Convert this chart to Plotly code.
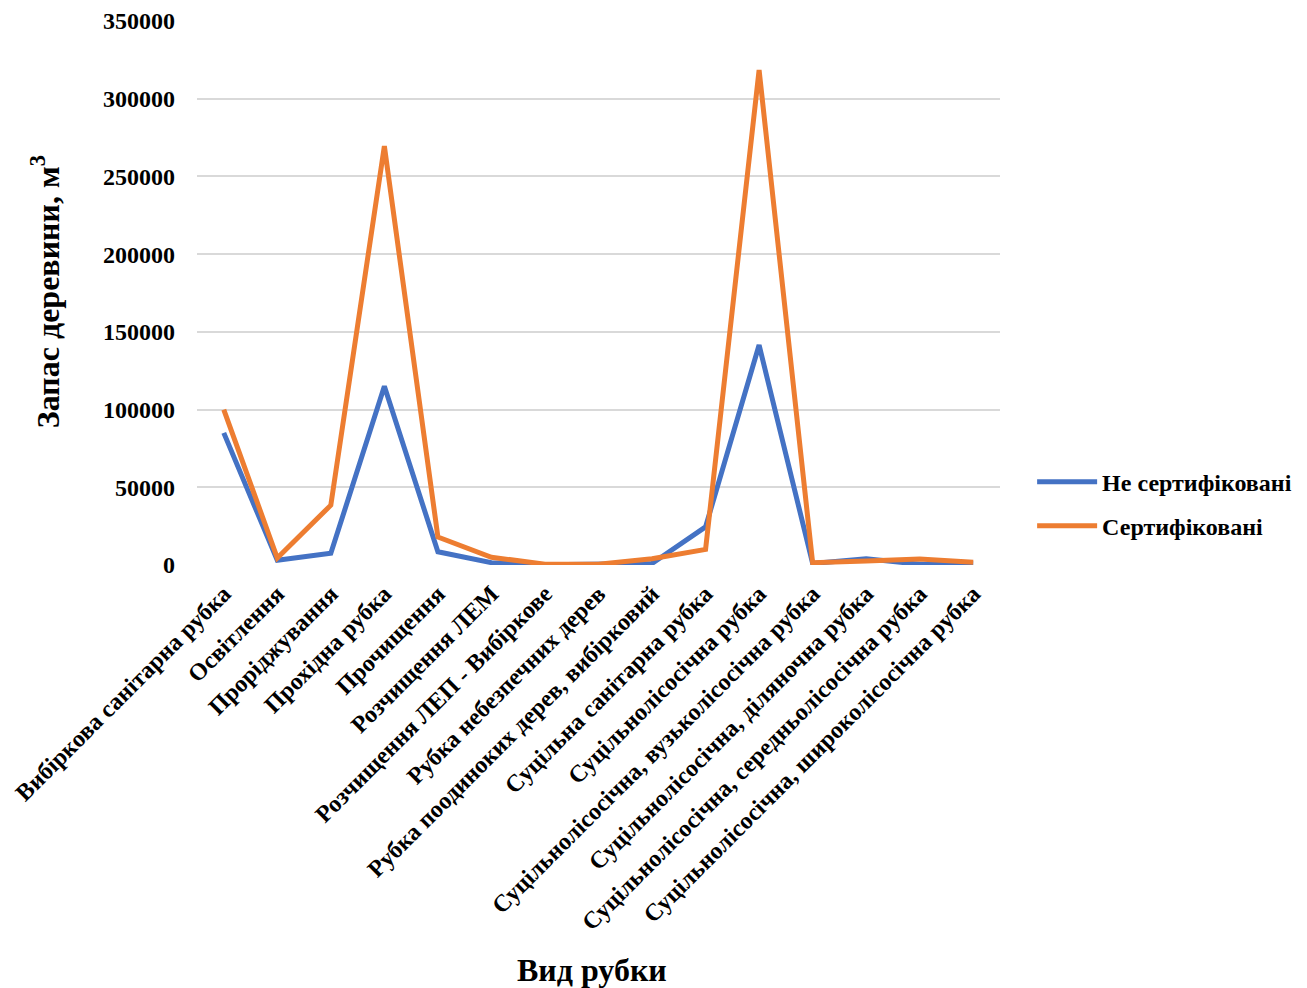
import plotly.graph_objects as go

categories = [
    "Вибіркова санітарна рубка",
    "Освітлення",
    "Проріджування",
    "Прохідна рубка",
    "Прочищення",
    "Розчищення ЛЕМ",
    "Розчищення ЛЕП - Вибіркове",
    "Рубка небезпечних дерев",
    "Рубка поодиноких дерев, вибірковий",
    "Суцільна санітарна рубка",
    "Суцільнолісосічна рубка",
    "Суцільнолісосічна, вузьколісосічна рубка",
    "Суцільнолісосічна, діляночна рубка",
    "Суцільнолісосічна, середньолісосічна рубка",
    "Суцільнолісосічна, широколісосічна рубка",
]
not_certified = [85000, 3000, 7500, 115000, 8500, 1500, 200, 200, 1000, 24500, 141500, 1000, 4000, 500, 1000]
certified = [100000, 4500, 38500, 269500, 18000, 5000, 500, 500, 4000, 10000, 318500, 1500, 2500, 3800, 1700]
y_ticks = [0, 50000, 100000, 150000, 200000, 250000, 300000, 350000]

FONT = "Liberation Serif"

fig = go.Figure()
fig.add_trace(go.Scatter(x=categories, y=not_certified, mode="lines", name="Не сертифіковані",
                         legendgroup="a", line=dict(color="#4472C4", width=5)))
fig.add_trace(go.Scatter(x=categories, y=certified, mode="lines", name="Сертифіковані",
                         legendgroup="b", line=dict(color="#ED7D31", width=5)))

fig.update_layout(
    width=1299, height=980,
    paper_bgcolor="white", plot_bgcolor="white",
    margin=dict(l=189, r=307, t=13, b=423, autoexpand=False),
    font=dict(family=FONT, size=24, color="black"),
    showlegend=True,
    legend=dict(x=1.04, y=0.112, xanchor="left", yanchor="middle",
                font=dict(family=FONT, size=24, color="black", weight="bold"),
                tracegroupgap=10, itemwidth=60),
    xaxis=dict(type="category", categoryorder="array", categoryarray=categories,
               range=[-0.5, 14.5], showgrid=False, showline=False, zeroline=False,
               tickangle=-45, ticks="", automargin=False, ticklabelstandoff=9,
               tickfont=dict(family=FONT, size=24, color="black", weight="bold")),
    yaxis=dict(range=[0, 350000], tickvals=y_ticks, ticktext=[str(v) for v in y_ticks],
               showgrid=True, gridcolor="#d9d9d9", gridwidth=1.5, zeroline=False,
               showline=False, ticks="", automargin=False, ticklabelstandoff=21,
               tickfont=dict(family=FONT, size=24, color="black", weight="bold")),
    annotations=[
        dict(text="Вид рубки", xref="paper", yref="paper", x=0.492, y=-0.744,
             xanchor="center", yanchor="middle", showarrow=False,
             font=dict(family=FONT, size=32, color="black", weight="bold")),
        dict(text="Запас деревини, м<sup>3</sup>", xref="paper", yref="paper",
             x=-0.189, y=0.502, xanchor="center", yanchor="middle", textangle=-90,
             showarrow=False, font=dict(family=FONT, size=32, color="black", weight="bold")),
    ],
)

fig.write_html("out.html")
